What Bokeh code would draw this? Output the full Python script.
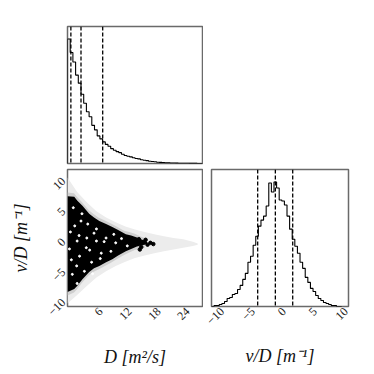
import math
import numpy as np
from bokeh.plotting import figure
from bokeh.layouts import column, row
from bokeh.models import Range1d, Span, FixedTicker
from bokeh.embed import file_html
from bokeh.resources import INLINE

# ---------------- data ----------------
# histogram of D (50 bins over 0..28)
d_range = [0.0, 28.0]
d_counts = [1240, 1105, 1010, 880, 800, 690, 600, 515, 465, 380,
            335, 275, 245, 215, 190, 172, 148, 132, 118, 108,
            92, 80, 72, 66, 57, 50, 46, 38, 32, 29,
            22, 20, 17, 13, 11, 10, 8, 7, 5, 5,
            4, 3, 3, 2, 2, 1, 1, 1, 0, 0]
d_quantiles = [0.7, 2.8, 7.3]

# histogram of v/D (50 bins over -10.5..10.5)
v_range = [-10.5, 10.5]
v_counts = [0, 1, 1, 2, 3, 5, 8, 9, 12, 13,
            17, 21, 27, 33, 44, 50, 61, 70, 80, 86,
            90, 100, 123, 114, 124, 118, 106, 105, 101, 90,
            77, 67, 60, 53, 44, 38, 29, 24, 18, 15,
            11, 8, 6, 4, 3, 2, 1, 1, 0, 0]
v_quantiles = [-3.05, -0.2, 2.6]

# 2D panel: envelopes of the sparse (grey) and dense (black) regions
halo_D = [0, 1, 2, 4, 6, 8, 10, 12, 14, 16, 18, 20, 22, 24, 26, 27]
halo_upper = [11.0, 9.8, 8.6, 6.9, 5.4, 4.4, 3.6, 2.9, 2.4, 2.0, 1.6, 1.3, 1.0, 0.8, 0.4, 0.1]
halo_lower = [-9.8, -9.1, -8.4, -6.9, -5.5, -4.5, -3.6, -2.9, -2.3, -1.9, -1.5, -1.2, -0.9, -0.6, -0.3, -0.1]

core_D = [0, 1.4, 2.0, 3.1, 4.5, 5.5, 6.6, 8.0, 9.3, 10.5, 12.1, 13.2, 14.4, 15.5, 16.5]
core_upper = [7.9, 7.8, 7.2, 6.3, 5.0, 4.4, 3.8, 3.3, 2.8, 2.3, 1.6, 1.4, 1.1, 0.7, 0.4]
core_lower = [-7.9, -7.4, -6.9, -5.8, -4.6, -4.0, -3.6, -3.0, -2.5, -1.9, -1.2, -0.8, -0.4, -0.2, 0.0]

speckle_D = [1.5, 2.5, 4.0, 3.0, 6.0, 7.0, 5.0, 1.0, 2.0, 8.0, 10.0, 0.6, 3.5, 9.0, 6.0, 1.2,
             2.0, 4.6, 11.2, 5.5, 0.8, 2.8, 3.9, 7.6, 1.9, 0.4, 4.2, 6.8, 9.6, 12.4, 2.4, 5.2]
speckle_v = [3.0, -2.0, 1.0, 5.0, 0.5, -1.5, -3.0, -5.0, 0.5, 1.0, 0.2, 2.0, -4.5, -1.2, 2.5, 6.0,
             -6.5, -1.0, 0.9, 1.8, -2.6, 3.8, -0.6, 0.4, -3.6, -0.8, 3.3, -2.4, 1.6, -0.3, 1.4, -4.9]

tip_D = [14.8, 15.3, 15.9, 16.6, 17.2, 17.8, 15.0, 16.2]
tip_v = [0.8, -0.5, 0.3, -0.1, 0.2, 0.0, -0.9, 0.7]

D_ticks = [6, 12, 18, 24]
v_ticks = [-10, -5, 0, 5, 10]
v_tick_labels = ["\u221210", "\u22125", "0", "5", "10"]

D_axis = [0.0, 28.0]
v_axis_x = [-10.5, 11.6]
v_axis_y = [-10.3, 12.3]

# ---------------- styling helpers ----------------
FRAME = "#6a6a6a"
SERIF = "Liberation Serif"


def base_fig(w, h, xr, yr, left, right, top, bottom):
    p = figure(width=w, height=h, x_range=Range1d(*xr), y_range=Range1d(*yr),
               output_backend="svg", toolbar_location=None,
               min_border_left=left, min_border_right=right,
               min_border_top=top, min_border_bottom=bottom)
    p.grid.visible = False
    p.outline_line_color = FRAME
    p.outline_line_width = 1.5
    p.background_fill_color = "white"
    p.border_fill_color = "white"
    return p


def style_axis(ax, label, label_standoff, tick_standoff):
    ax.axis_line_color = None
    ax.major_tick_line_color = None
    ax.minor_tick_line_color = None
    ax.major_tick_out = 0
    ax.major_tick_in = 0
    ax.major_label_text_font = SERIF
    ax.major_label_text_font_size = "12px"
    ax.major_label_text_color = "#222222"
    ax.major_label_orientation = math.pi / 4
    ax.major_label_standoff = tick_standoff
    ax.axis_label = label
    ax.axis_label_text_font = SERIF
    ax.axis_label_text_font_style = "italic"
    ax.axis_label_text_font_size = "18px"
    ax.axis_label_text_color = "#111111"
    ax.axis_label_standoff = label_standoff


def step_xy(lo, hi, counts):
    edges = np.linspace(lo, hi, len(counts) + 1)
    xs = np.repeat(edges, 2)
    ys = np.concatenate([[0], np.repeat(np.asarray(counts, float), 2), [0]])
    return xs, ys

# rotated labels are end-anchored by Bokeh; a slightly shifted label range
# centres them on their ticks like the reference
LAB_SHIFT_D = 0.9
LAB_SHIFT_VY = 0.7
LAB_SHIFT_VX = 1.2

# ---------------- top-left: histogram of D ----------------
pA = base_fig(203, 166, D_axis, [0, 1.1 * max(d_counts)], 67, 1, 26, 3)
pA.xaxis.visible = False
pA.yaxis.visible = False
xs, ys = step_xy(d_range[0], d_range[1], d_counts)
pA.line(xs, ys, line_color="black", line_width=1.1)
for q in d_quantiles:
    pA.add_layout(Span(location=q, dimension="height", line_color="black",
                       line_dash="4 2", line_width=1.3))

# ---------------- bottom-left: D vs v/D ----------------
pB = base_fig(203, 206, D_axis, v_axis_y, 67, 1, 3, 66)
pB.extra_x_ranges = {"lab": Range1d(D_axis[0] - LAB_SHIFT_D, D_axis[1] - LAB_SHIFT_D)}
pB.extra_y_ranges = {"lab": Range1d(v_axis_y[0] - LAB_SHIFT_VY, v_axis_y[1] - LAB_SHIFT_VY)}
pB.xaxis[0].x_range_name = "lab"
pB.yaxis[0].y_range_name = "lab"
pB.varea(x=halo_D, y1=halo_lower, y2=halo_upper, fill_color="#ececec")
pB.varea(x=[d * 0.97 for d in core_D],
         y1=[v - 0.6 for v in core_lower], y2=[v + 0.6 for v in core_upper],
         fill_color="#cfcfcf")
pB.varea(x=core_D, y1=core_lower, y2=core_upper, fill_color="black")
pB.scatter(tip_D, tip_v, size=3.5, color="black")
pB.scatter(speckle_D, speckle_v, size=2.0, color="white")
pB.xaxis.ticker = FixedTicker(ticks=D_ticks)
pB.yaxis.ticker = FixedTicker(ticks=v_ticks)
pB.yaxis.major_label_overrides = {t: l for t, l in zip(v_ticks, v_tick_labels)}
style_axis(pB.xaxis[0], "D [m\u00b2/s]", 20, 3)
style_axis(pB.yaxis[0], "v/D [m\u207b\u00b9]", 11, 4)

# ---------------- bottom-right: histogram of v/D ----------------
pC = base_fig(157, 206, v_axis_x, [0, 1.1 * max(v_counts)], 8, 12, 3, 66)
pC.extra_x_ranges = {"lab": Range1d(v_axis_x[0] - LAB_SHIFT_VX, v_axis_x[1] - LAB_SHIFT_VX)}
pC.xaxis[0].x_range_name = "lab"
pC.yaxis.visible = False
xs, ys = step_xy(v_range[0], v_range[1], v_counts)
pC.line(xs, ys, line_color="black", line_width=1.1)
for q in v_quantiles:
    pC.add_layout(Span(location=q, dimension="height", line_color="black",
                       line_dash="4 2", line_width=1.3))
pC.xaxis.ticker = FixedTicker(ticks=v_ticks)
pC.xaxis.major_label_overrides = {t: l for t, l in zip(v_ticks, v_tick_labels)}
style_axis(pC.xaxis[0], "v/D [m\u207b\u00b9]", 15, 3)

layout = column(pA, row(pB, pC))
open("out.html", "w").write(file_html(layout, INLINE))
